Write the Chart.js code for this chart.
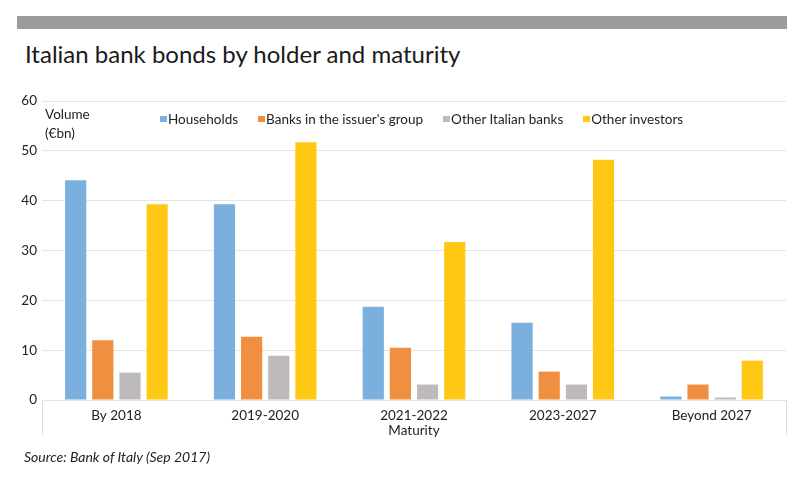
<!DOCTYPE html>
<html>
<head>
<meta charset="utf-8">
<script src="https://cdn.jsdelivr.net/npm/chart.js@4"></script>
<style>
  html, body { margin: 0; padding: 0; background: #fff; }
  #wrap { position: relative; width: 800px; height: 490px; overflow: hidden; font-family: 'Lato', 'Open Sans', sans-serif; color: #222; }
  #topBar { position: absolute; left: 17px; top: 16px; width: 770px; height: 13px; background: #9b9b9b; }
  #title { position: absolute; left: 25px; top: 39px; font-size: 24px; font-weight: 400; color: #1a1a1a; white-space: nowrap; }
  #unit { position: absolute; left: 45px; top: 105px; font-size: 13.5px; line-height: 19px; color: #222; }
  #legend { position: absolute; left: 160px; top: 111px; display: flex; font-size: 13.5px; color: #222; }
  #legend .item { display: flex; align-items: flex-start; margin-right: 20px; }
  #legend .box { width: 7px; height: 6px; margin-top: 5px; margin-right: 1px; }
  #source { position: absolute; left: 24px; top: 448px; font-size: 14px; font-style: italic; color: #222; }
  canvas { position: absolute; left: 0; top: 0; }
</style>
</head>
<body>
<div id="wrap">
  <div id="topBar"></div>
  <div id="title">Italian bank bonds by holder and maturity</div>
  <canvas id="bondChart" width="800" height="490"></canvas>
  <div id="unit">Volume<br>(€bn)</div>
  <div id="legend"></div>
  <div id="source">Source: Bank of Italy (Sep 2017)</div>
</div>

<script>
/* ================================================================
   DATA (€bn)
   ================================================================ */
const maturities = ['By 2018', '2019-2020', '2021-2022', '2023-2027', 'Beyond 2027'];
const households = [44.1, 39.3, 18.7, 15.5, 0.7];
const groupBanks = [12.0, 12.7, 10.5, 5.7, 3.1];
const otherItalianBanks = [5.5, 8.9, 3.1, 3.1, 0.5];
const otherInvestors = [39.3, 51.7, 31.7, 48.2, 7.9];
const yTicks = [0, 10, 20, 30, 40, 50, 60];

const seriesNames = ['Households', "Banks in the issuer's group", 'Other Italian banks', 'Other investors'];
const seriesColors = ['#7aafde', '#ef8f3f', '#bfbaba', '#fec815'];

const font = { family: "'Lato','Open Sans',sans-serif" };

/* ================================================================
   LEGEND (html, so it can sit inside the plot like the original)
   ================================================================ */
function renderLegend() {
    const el = document.getElementById('legend');
    el.innerHTML = seriesNames.map((name, i) =>
        `<div class="item"><div class="box" style="background:${seriesColors[i]}"></div><span>${name}</span></div>`
    ).join('');
}

/* short axis stubs below the category axis, at the plot's left and right edges */
const axisStubs = {
    id: 'axisStubs',
    afterDraw(chart) {
        const { ctx, chartArea } = chart;
        ctx.save();
        ctx.strokeStyle = '#dedede';
        ctx.lineWidth = 1;
        [chartArea.left, chartArea.right].forEach(x => {
            const px = Math.round(x) + 0.5;
            ctx.beginPath();
            ctx.moveTo(px, chartArea.bottom);
            ctx.lineTo(px, chartArea.bottom + 35);
            ctx.stroke();
        });
        ctx.restore();
    }
};

/* ================================================================
   CHART
   ================================================================ */
function renderChart() {
    const values = [households, groupBanks, otherItalianBanks, otherInvestors];
    const ctx = document.getElementById('bondChart');

    new Chart(ctx, {
        type: 'bar',
        data: {
            labels: maturities,
            datasets: values.map((data, i) => ({
                label: seriesNames[i],
                data: data,
                backgroundColor: seriesColors[i],
                borderWidth: 0,
                categoryPercentage: 0.73,
                barPercentage: 0.78
            }))
        },
        options: {
            responsive: false,
            animation: false,
            layout: { padding: { left: 0, right: 14, top: 101, bottom: 53 } },
            plugins: { legend: { display: false }, tooltip: { enabled: false } },
            scales: {
                x: {
                    grid: { display: false },
                    border: { display: false },
                    ticks: { color: '#222', padding: 1, font: { size: 13.5, lineHeight: 1, ...font } },
                    title: { display: true, text: 'Maturity', color: '#222', padding: { top: 0, bottom: 0 }, font: { size: 13.5, lineHeight: 1, ...font } }
                },
                y: {
                    min: 0,
                    max: 60,
                    afterBuildTicks: s => { s.ticks = yTicks.map(v => ({ value: v })); },
                    afterFit: s => { s.width = 42; },
                    grid: { color: '#e4e4e4', drawTicks: false },
                    border: { display: false },
                    ticks: { color: '#222', padding: 5, font: { size: 13.5, ...font } }
                }
            }
        },
        plugins: [axisStubs]
    });
}

document.addEventListener('DOMContentLoaded', () => {
    renderLegend();
    renderChart();
});
</script>
</body>
</html>
